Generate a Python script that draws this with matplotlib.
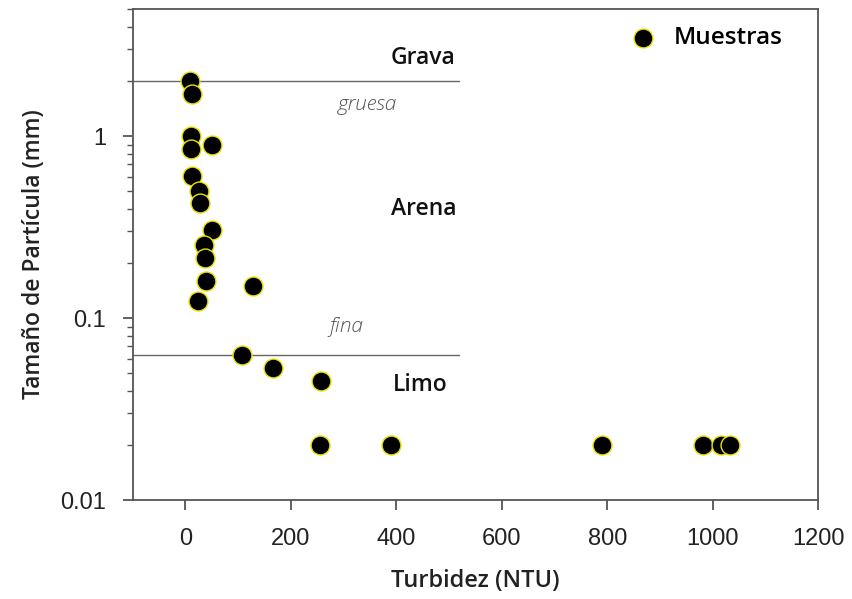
import numpy as np
import matplotlib
matplotlib.use('Agg')
from matplotlib import pyplot as plt
from matplotlib.ticker import LogLocator, NullFormatter, FixedLocator, FixedFormatter

# Muestras: turbidez (NTU) vs tamano de particula (mm)
turbidez = [8, 13, 10, 11, 50, 12, 25, 27, 50, 35, 38, 39, 129, 24,
            107, 166, 257, 255, 390, 790, 981, 1015, 1032]
tamano = [2.0, 1.70, 1.0, 0.85, 0.90, 0.605, 0.503, 0.427, 0.305, 0.252, 0.213, 0.160, 0.150, 0.124,
          0.063, 0.053, 0.045, 0.02, 0.02, 0.02, 0.02, 0.02, 0.02]

limites = [2.0, 0.0625]          # grava/arena, arena/limo
clases = ['Grava', 'Arena', 'Limo']
subclases = ['gruesa', 'fina']
yticks = [0.01, 0.1, 1]
yticklabels = ['0.01', '0.1', '1']
xticks = [0, 200, 400, 600, 800, 1000, 1200]

fig = plt.figure(figsize=(8.53, 5.99), dpi=100)
ax = fig.add_axes([0.1555, 0.165, 0.804, 0.820])
axcol = '#555555'

for lim in limites:
    ax.plot([-100, 518], [lim, lim], color='#666666', lw=1, zorder=1)

ax.scatter(turbidez, tamano, s=185, c='black', edgecolors='#e8e000', linewidths=1.0,
           zorder=3, label='Muestras')

ax.set_yscale('log')
ax.set_xlim(-100, 1200)
ax.set_ylim(0.01, 5)

ax.yaxis.set_major_locator(FixedLocator(yticks))
ax.yaxis.set_major_formatter(FixedFormatter(yticklabels))
ax.yaxis.set_minor_locator(LogLocator(base=10, subs=np.arange(2, 10)))
ax.yaxis.set_minor_formatter(NullFormatter())
ax.set_xticks(xticks)

for s in ax.spines.values():
    s.set_color(axcol)
    s.set_linewidth(1.3)
ax.tick_params(axis='both', which='major', length=7, width=1.3, color=axcol,
               labelsize=17, labelcolor='#222222')
ax.tick_params(axis='y', which='minor', length=4, width=1.0, color=axcol)
for lab in ax.get_xticklabels() + ax.get_yticklabels():
    lab.set_family('Liberation Sans')
ax.tick_params(axis='x', pad=13)
ax.tick_params(axis='y', pad=12)

tf = 'Open Sans'
ax.text(451, 2.68, clases[0], fontsize=16.5, fontweight='semibold', family=tf, ha='center', va='center', color='#111111')
ax.text(451, 0.40, clases[1], fontsize=16.5, fontweight='semibold', family=tf, ha='center', va='center', color='#111111')
ax.text(446, 0.043, clases[2], fontsize=16.5, fontweight='semibold', family=tf, ha='center', va='center', color='#111111')
ax.text(345, 1.48, subclases[0], fontsize=15, style='italic', fontweight='light', family=tf,
        ha='center', va='center', color='#555555')
ax.text(305, 0.089, subclases[1], fontsize=15, style='italic', fontweight='light', family=tf,
        ha='center', va='center', color='#555555')

ax.set_xlabel('Turbidez (NTU)', fontsize=17, fontweight='semibold', family=tf, labelpad=14, color='#222222')
ax.set_ylabel('Tamaño de Partícula (mm)', fontsize=16.5, fontweight='semibold', family=tf, labelpad=10, color='#222222')

leg = ax.legend(loc='upper right', frameon=False, prop={'family': tf, 'size': 17.5, 'weight': 'semibold'},
                handletextpad=0.25, borderaxespad=0.3, bbox_to_anchor=(0.972, 1.0))

plt.savefig('out.png', dpi=100)
